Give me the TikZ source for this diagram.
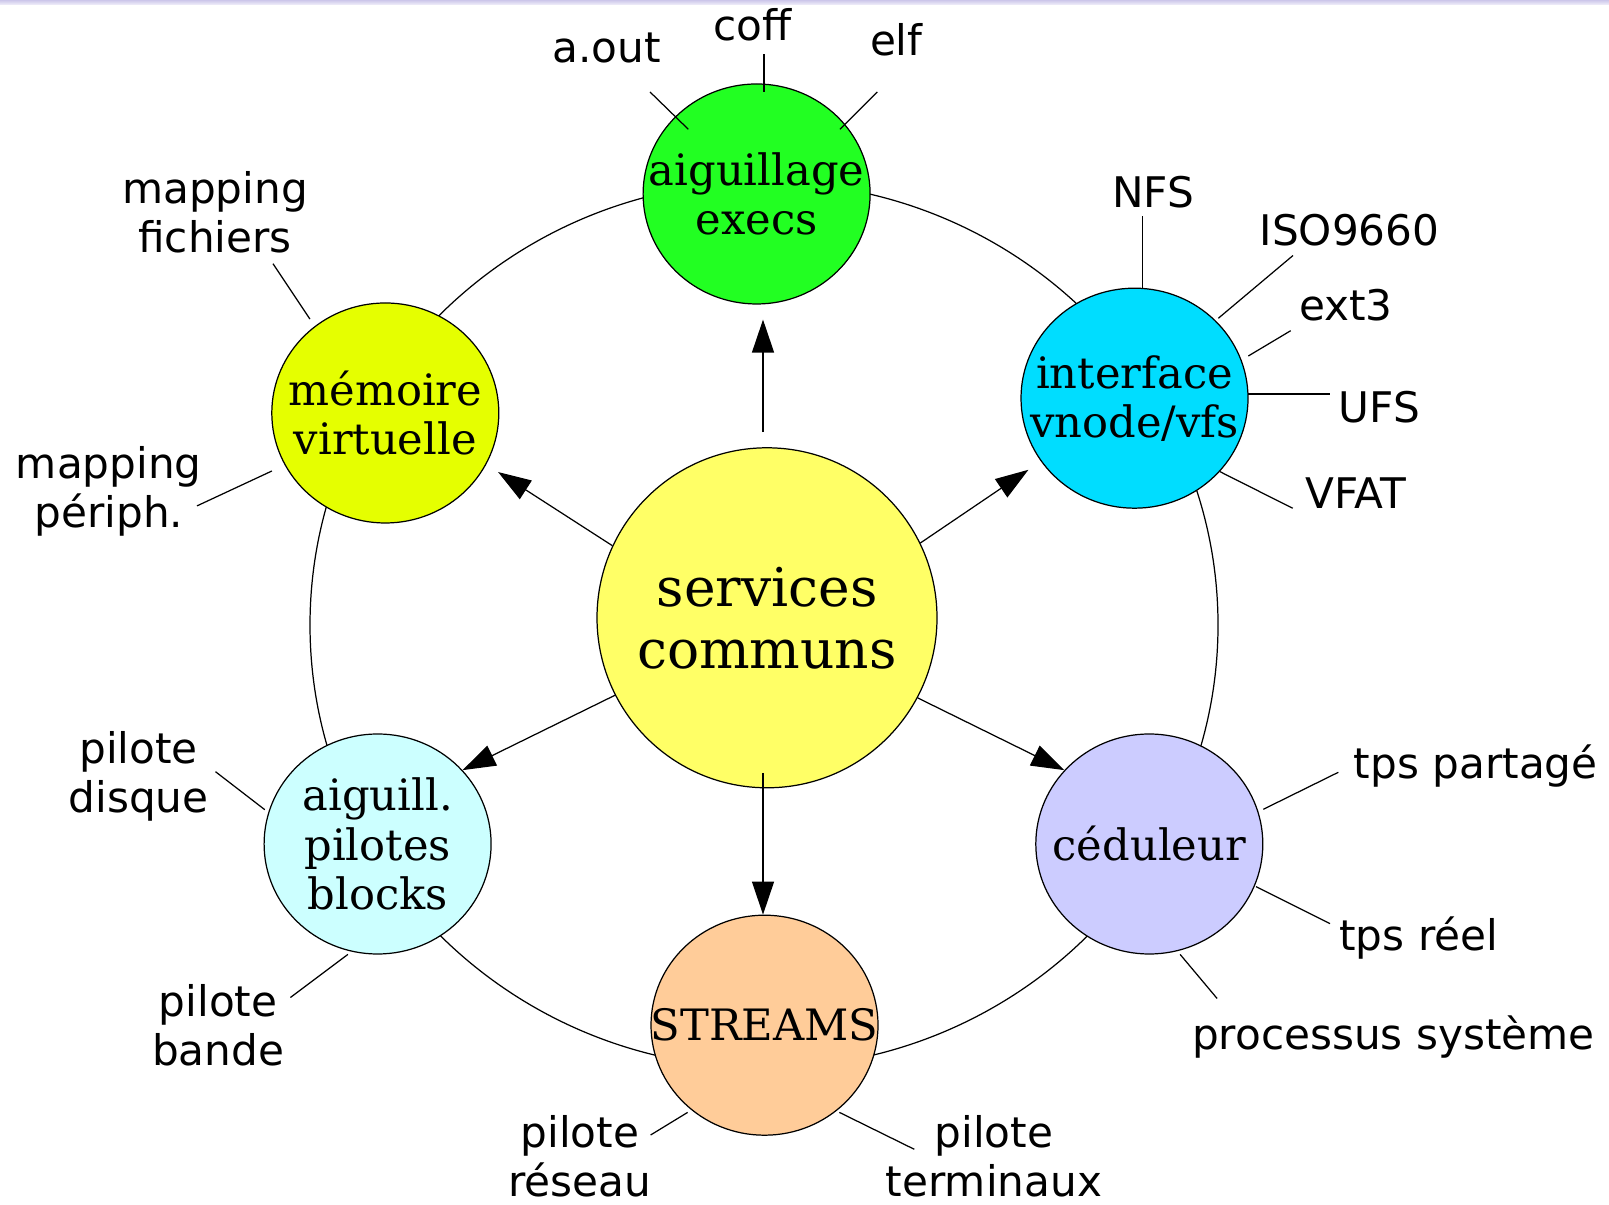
\documentclass[tikz,border=0pt]{standalone}
\usepackage{fontspec}
\setmainfont{DejaVu Serif}
\setsansfont{DejaVu Sans}
\usepackage{xcolor}
\usepackage{tikz}
\usetikzlibrary{arrows.meta,calc,shapes.geometric}
\definecolor{corefill}{HTML}{FFFF66}
\definecolor{execfill}{HTML}{22FF22}
\definecolor{vfsfill}{HTML}{00DDFF}
\definecolor{schedfill}{HTML}{CCCCFF}
\definecolor{streamfill}{HTML}{FFCC99}
\definecolor{blockfill}{HTML}{CCFFFF}
\definecolor{vmfill}{HTML}{E5FF00}
\definecolor{topband}{HTML}{CCC6EA}
\tikzset{
  unit/.style={ellipse, draw=black, line width=0.35pt, minimum width=2.27cm,
    minimum height=2.2cm, inner xsep=-0.4cm, inner ysep=0pt, align=center,
    font=\fontsize{12.3}{14}\selectfont},
  core/.style={circle, draw=black, line width=0.35pt, minimum size=3.4cm,
    inner sep=0pt, align=center, fill=corefill,
    font=\fontsize{15.2}{17.6}\selectfont},
  tag/.style={inner sep=0pt, align=center, font=\sffamily\fontsize{12}{14}\selectfont},
  spoke/.style={draw=black, line width=0.35pt},
  ring/.style={draw=black, line width=0.35pt},
  flowarr/.style={-{Triangle[length=3.3mm,width=2.2mm]}, draw=black, line width=0.35pt}
}

\begin{document}
\begin{tikzpicture}
  \useasboundingbox (0,0) rectangle (16.09,12.04);
  \shade[top color=topband, bottom color=topband!25] (0,11.99) rectangle (16.09,12.04);

  % ring joining the subsystems
  \coordinate (hub) at (7.64,5.79);
  \draw[ring] (hub) ellipse [x radius=4.54, y radius=4.43];

  % subsystems
  \node[core] (serv) at (7.67,5.862) {services\\communs};
  \node[unit, fill=execfill] (execs) at (7.566,10.10) {aiguillage\\execs};
  \node[unit, fill=vfsfill] (vfs) at (11.345,8.058) {interface\\vnode/vfs};
  \node[unit, fill=schedfill] (sched) at (11.493,3.60) {céduleur};
  \node[unit, fill=streamfill] (streams) at (7.645,1.788) {STREAMS};
  \node[unit, fill=blockfill] (blocks) at (3.776,3.60) {aiguill.\\pilotes\\blocks};
  \node[unit, fill=vmfill] (vm) at (3.853,7.91) {mémoire\\virtuelle};

  % arrows out of the common services
  \draw[flowarr, shorten <=0.15cm, shorten >=0.15cm]
    ($(serv.north)+(-0.04,0)$) -- ($(serv.north |- execs.south)+(-0.04,0)$);
  \draw[flowarr, shorten <=-0.155cm]
    ($(serv.south)+(-0.04,0)$) -- ($(serv.south |- streams.north)+(-0.04,0)$);
  \draw[flowarr, shorten >=0.14cm] (serv.155) -- (vm.333);
  \draw[flowarr, shorten >=0.15cm] (serv.26) -- (vfs.214);
  \draw[flowarr] (serv.207) -- (blocks.41);
  \draw[flowarr] (serv.332) -- (sched.139);

  % binary formats
  \node[tag] (aout) at (6.067,11.562) {a.out};
  \node[tag] (coff) at (7.528,11.788) {coff};
  \node[tag] (elf) at (8.963,11.64) {elf};
  \draw[spoke] ($(execs)+(-0.683,0.647)$) -- ++(-0.383,0.373);
  \draw[spoke] ($(execs)+(0.074,1.02)$) -- ++(0,0.38);
  \draw[spoke] ($(execs)+(0.834,0.647)$) -- ++(0.373,0.373);

  % file systems
  \node[tag] (nfs) at (11.53,10.116) {NFS};
  \node[tag] (iso) at (13.495,9.741) {ISO9660};
  \node[tag] (ext) at (13.458,8.993) {ext3};
  \node[tag] (ufs) at (13.792,7.973) {UFS};
  \node[tag] (vfat) at (13.555,7.105) {VFAT};
  \draw[spoke] ($(vfs)+(0.077,1.10)$) -- ++(0,0.72);
  \draw[spoke] ($(vfs)+(0.838,0.799)$) -- ++(0.747,0.628);
  \draw[spoke] ($(vfs)+(1.138,0.422)$) -- ++(0.424,0.253);
  \draw[spoke] ($(vfs)+(1.138,0.042)$) -- ++(0.817,0);
  \draw[spoke] ($(vfs)+(0.855,-0.735)$) -- ++(0.727,-0.366);

  % virtual memory
  \node[tag] (mapf) at (2.15,9.916) {mapping\\fichiers};
  \node[tag] (mapp) at (1.088,7.124) {mapping\\périph.};
  \draw[spoke] ($(vm)+(-0.754,0.939)$) -- ++(-0.369,0.554);
  \draw[spoke] ($(vm)+(-1.134,-0.58)$) -- ++(-0.749,-0.349);

  % scheduling classes
  \node[tag] (tpsp) at (14.758,4.382) {tps partagé};
  \node[tag] (tpsr) at (14.187,2.66) {tps réel};
  \node[tag] (proc) at (13.933,1.668) {processus système};
  \draw[spoke] ($(sched)+(1.14,0.347)$) -- ++(0.75,0.37);
  \draw[spoke] ($(sched)+(1.067,-0.426)$) -- ++(0.74,-0.37);
  \draw[spoke] ($(sched)+(0.308,-1.104)$) -- ++(0.37,-0.441);

  % stream drivers
  \node[tag] (pnet) at (5.798,0.475) {pilote\\réseau};
  \node[tag] (ptty) at (9.939,0.475) {pilote\\terminaux};
  \draw[spoke] ($(streams)+(-0.769,-0.872)$) -- ++(-0.37,-0.226);
  \draw[spoke] ($(streams)+(0.749,-0.872)$) -- ++(0.749,-0.369);

  % block drivers
  \node[tag] (pdisk) at (1.385,4.277) {pilote\\disque};
  \node[tag] (ptape) at (2.181,1.788) {pilote\\bande};
  \draw[spoke] ($(blocks)+(-1.128,0.343)$) -- ++(-0.493,0.38);
  \draw[spoke] ($(blocks)+(-0.297,-1.104)$) -- ++(-0.575,-0.431);
\end{tikzpicture}
\end{document}
